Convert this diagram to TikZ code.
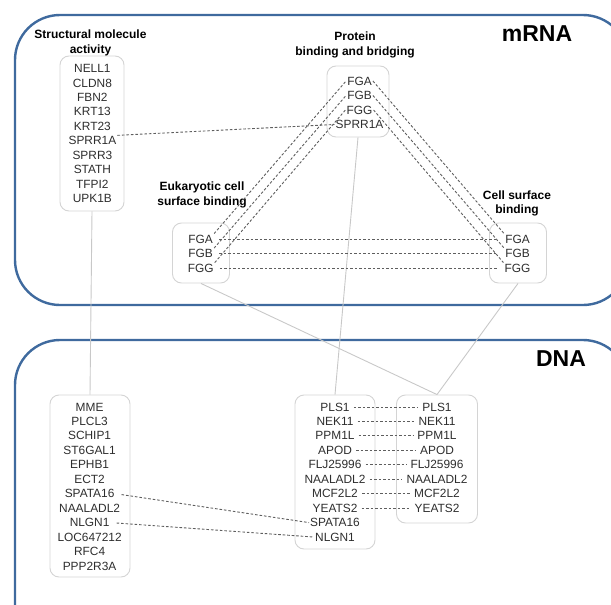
\documentclass[tikz,border=0pt]{standalone}
\usepackage{fontspec}
\setmainfont{Liberation Sans}
\definecolor{layerblue}{HTML}{3F6A9E}
\definecolor{boxgray}{HTML}{D4D4D4}
\definecolor{itemtext}{HTML}{2E2E2E}
\definecolor{dashgray}{HTML}{5E5E5E}
\definecolor{linkgray}{HTML}{C8C8C8}
\begin{document}
\begin{tikzpicture}[x=1pt,y=-1pt,
  layer/.style={draw=layerblue,line width=2.4pt,rounded corners=45pt},
  gbox/.style={draw=boxgray,line width=0.9pt,rounded corners=9pt,inner sep=0pt},
  item/.style={font=\fontsize{11.9}{14}\selectfont,text=itemtext,inner sep=1pt,anchor=center},
  ttl/.style={font=\fontsize{12}{14.8}\selectfont\bfseries,align=center,inner sep=0pt},
  big/.style={font=\fontsize{23}{26}\selectfont\bfseries,inner sep=0pt},
  dlink/.style={draw=dashgray,line width=0.9pt,dash pattern=on 2.6pt off 1.9pt},
  slink/.style={draw=linkgray,line width=0.9pt}]
\useasboundingbox (0,0) rectangle (611,605);
\clip (0,0) rectangle (611,605);
% layers
\draw[layer] (15,15) rectangle (628,305);
\draw[layer] (15,340) rectangle (628,650);
\node[big] (mrna) at (537,34) {mRNA};
\node[big] (dna) at (561,359) {DNA};
% mRNA boxes
\node[gbox,minimum width=64pt,minimum height=155pt] (sma) at (92,133.5) {};
\node[gbox,minimum width=62pt,minimum height=71pt] (pb) at (358,101.5) {};
\node[gbox,minimum width=57pt,minimum height=60pt] (euk) at (201,253) {};
\node[gbox,minimum width=57pt,minimum height=60pt] (cs) at (518,253) {};
% titles
\node[ttl] (smat) at (90.5,42.5) {Structural molecule\\activity};
\node[ttl] (pbt) at (355,45) {Protein\\binding and bridging};
\node[ttl] (eukt) at (202,195) {Eukaryotic cell\\surface binding};
\node[ttl] (cst) at (517,203.5) {Cell surface\\binding};
% SMA items
\foreach \t [count=\i] in {NELL1,CLDN8,FBN2,KRT13,KRT23,SPRR1A,SPRR3,STATH,TFPI2,UPK1B}
  \node[item] (sma\i) at (92.4,{68.5+14.45*(\i-1)}) {\t};
% PB items
\node[item] (pbA) at (359.5,81) {FGA};
\node[item] (pbB) at (359.5,95.5) {FGB};
\node[item] (pbG) at (359.5,110) {FGG};
\node[item] (pbS) at (359.5,124.5) {SPRR1A};
% Euk items
\node[item] (eukA) at (200.7,239) {FGA};
\node[item] (eukB) at (200.7,253.5) {FGB};
\node[item] (eukG) at (200.7,268) {FGG};
% CS items
\node[item] (csA) at (517.5,239) {FGA};
\node[item] (csB) at (517.5,253.5) {FGB};
\node[item] (csG) at (517.5,268) {FGG};
% DNA boxes
\node[gbox,minimum width=80pt,minimum height=182pt] (dl) at (90,486) {};
\node[gbox,minimum width=80pt,minimum height=154pt] (dm) at (335,472) {};
\node[gbox,minimum width=81pt,minimum height=128pt] (dr) at (437,459) {};
\foreach \t [count=\i] in {MME,PLCL3,SCHIP1,ST6GAL1,EPHB1,ECT2,SPATA16,NAALADL2,NLGN1,LOC647212,RFC4,PPP2R3A}
  \node[item] (dl\i) at (89.6,{407+14.45*(\i-1)}) {\t};
\foreach \t [count=\i] in {PLS1,NEK11,PPM1L,APOD,FLJ25996,NAALADL2,MCF2L2,YEATS2,SPATA16,NLGN1}
  \node[item] (dm\i) at (335,{407+14.45*(\i-1)}) {\t};
\foreach \t [count=\i] in {PLS1,NEK11,PPM1L,APOD,FLJ25996,NAALADL2,MCF2L2,YEATS2}
  \node[item] (dr\i) at (437,{407+14.45*(\i-1)}) {\t};
% solid links between layers
\draw[slink] (sma.south) -- (dl.north);
\draw[slink] (pb.south) -- (dm.north);
\draw[slink] (euk.south) -- (dr.north);
\draw[slink] (cs.south) -- (dr.north);
% dashed links mRNA
\draw[dlink] (sma6.north east) -- (pbS.west);
\draw[dlink] (eukA.north east) -- (pbA.west);
\draw[dlink] (eukB.north east) -- (pbB.west);
\draw[dlink] (eukG.north east) -- (pbG.west);
\draw[dlink] (pbA.east) -- (csA.north west);
\draw[dlink] (pbB.east) -- (csB.north west);
\draw[dlink] (pbG.east) -- (csG.north west);
\draw[dlink,shorten <=5pt,shorten >=6pt] (eukA.east) -- (csA.west);
\draw[dlink,shorten <=5pt,shorten >=6pt] (eukB.east) -- (csB.west);
\draw[dlink,shorten <=5pt,shorten >=6pt] (eukG.east) -- (csG.west);
% dashed links DNA
\foreach \i in {1,...,8}
  \draw[dlink,shorten <=3pt,shorten >=3pt] (dm\i.east) -- (dr\i.west);
\draw[dlink,shorten <=6pt] (dl7.east) -- (dm9.west);
\draw[dlink,shorten <=6pt] (dl9.east) -- (dm10.west);
\end{tikzpicture}
\end{document}
